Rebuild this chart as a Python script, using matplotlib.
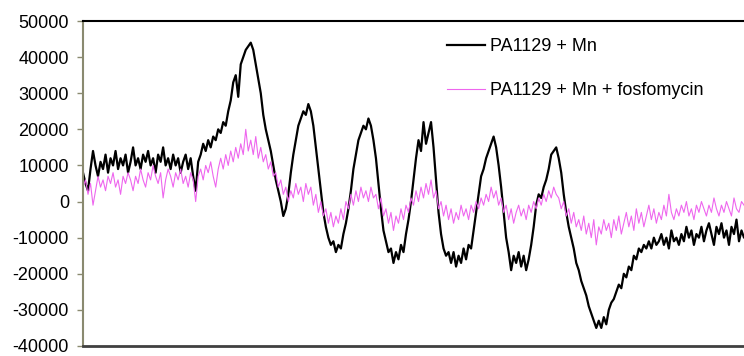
import numpy as np
import matplotlib
matplotlib.use('Agg')
import matplotlib.pyplot as plt

plt.rcParams['font.family'] = ['Liberation Sans', 'DejaVu Sans']

# signal values, in thousands
mn = [8, 5, 3, 9, 14, 10, 7, 11, 9, 13, 8, 12, 10, 14, 9, 12, 10, 13, 8, 11,
      15, 10, 12, 9, 13, 11, 14, 10, 12, 8, 13, 11, 15, 10, 12, 9, 13, 10, 12, 8,
      11, 13, 9, 12, 7, 3, 11, 13, 16, 14, 17, 15, 18, 17, 20, 19, 22, 21, 25, 28,
      33, 35, 29, 38, 40, 42, 43, 44, 42, 38, 34, 30, 24, 20, 17, 14, 10, 6, 3, 0,
      -4, -2, 2, 8, 13, 17, 21, 23, 25, 24, 27, 25, 21, 15, 9, 3, -3, -7, -10, -12,
      -11, -14, -12, -13, -9, -6, -2, 3, 9, 13, 17, 19, 21, 20, 23, 21, 17, 12, 5, -2,
      -8, -11, -14, -13, -17, -14, -16, -12, -14, -9, -5, 0, 6, 12, 17, 14, 22, 16, 19, 22,
      15, 6, -3, -9, -13, -15, -14, -17, -14, -18, -15, -17, -13, -16, -12, -13, -8, -3, 2, 7,
      9, 12, 14, 16, 18, 15, 10, 4, -3, -10, -14, -19, -15, -17, -14, -18, -15, -19, -16, -12,
      -7, -1, 2, 1, 4, 6, 9, 13, 14, 15, 12, 8, 2, -3, -7, -10, -13, -17, -19, -22,
      -24, -26, -29, -31, -33, -35, -33, -35, -32, -34, -30, -28, -27, -25, -23, -24, -20, -21, -18, -19,
      -15, -16, -13, -14, -12, -13, -11, -13, -10, -12, -11, -9, -12, -10, -13, -8, -11, -10, -12, -9,
      -11, -7, -10, -8, -12, -9, -10, -7, -11, -8, -6, -9, -12, -7, -9, -6, -10, -8, -12, -7,
      -9, -5, -11, -8, -10, -9]

mn_fos = [4, 6, 2, 5, -1, 3, 7, 4, 6, 3, 7, 5, 8, 4, 6, 2, 7, 5, 8, 6,
          3, 7, 5, 9, 6, 4, 8, 6, 10, 7, 5, 8, 1, 6, 9, 7, 4, 8, 6, 9,
          5, 7, 4, 8, 6, 0, 7, 9, 6, 10, 8, 11, 7, 4, 9, 12, 9, 13, 10, 14,
          11, 15, 12, 16, 13, 20, 14, 17, 13, 18, 12, 15, 11, 13, 9, 11, 7, 8, 4, 6,
          2, 4, 0, 3, 1, 5, 2, 4, 0, 5, 2, 4, -1, 2, -3, 0, -4, -2, -6, -3,
          -7, -4, -6, -2, -5, 0, -2, 2, -1, 3, 0, 4, 1, 3, 0, 4, 1, 2, -2, 1,
          -4, -2, -6, -3, -8, -4, -6, -2, -5, -1, -3, 1, -1, 3, 0, 4, 1, 5, 2, 6,
          1, 3, -2, 0, -4, -1, -5, -2, -6, -3, -5, -1, -4, -2, -5, -1, -3, 0, -2, 1,
          -1, 2, 0, 4, 1, 3, -1, 1, -3, -1, -5, -2, -6, -3, -1, -4, -2, -5, -1, -3,
          0, -2, 1, -1, 2, 0, 3, 1, 4, 2, 1, -2, 0, -4, -2, -6, -3, -7, -5, -8,
          -4, -9, -6, -10, -5, -12, -7, -9, -5, -8, -6, -10, -5, -8, -4, -9, -6, -3, -7, -4,
          -8, -2, -6, -3, -7, -4, -1, -5, -2, -6, -3, -5, -1, -4, 2, -3, -5, -2, -4, -1,
          -3, 0, -4, -2, -5, -1, -3, 0, -2, -4, -1, -3, 1, -2, -4, -1, -3, 0, -2, -4,
          1, -2, -3, 0, -1, -2]

labels = ['PA1129 + Mn', 'PA1129 + Mn + fosfomycin']
yticks = [-40000, -30000, -20000, -10000, 0, 10000, 20000, 30000, 40000, 50000]

fig = plt.figure(figsize=(7.44, 3.56), dpi=100)
ax = fig.add_axes([83/744, 1 - 346/356, 1 - 83/744, 325/356])

x = np.arange(len(mn))
ax.plot(x, np.array(mn) * 1000, color='black', lw=1.6, label=labels[0])
ax.plot(x, np.array(mn_fos) * 1000, color='#ee66ee', lw=0.8, label=labels[1])

ax.set_xlim(0, len(mn) - 2)
ax.set_ylim(-40000, 50000)
ax.set_yticks(yticks)
ax.set_yticklabels([str(t) for t in yticks])
ax.set_xticks([])
ax.tick_params(axis='y', direction='out', length=4, width=1, color='#8a8a70',
               labelsize=13, pad=6)

ax.spines['top'].set_color('black')
ax.spines['top'].set_linewidth(1.5)
ax.spines['bottom'].set_color('#404040')
ax.spines['bottom'].set_linewidth(2)
ax.spines['left'].set_color('#8a8a70')
ax.spines['left'].set_linewidth(1.5)
ax.spines['right'].set_visible(False)

ax.legend(loc='upper left', bbox_to_anchor=(447/744, 1 - 38/356),
          bbox_transform=fig.transFigure, frameon=False, fontsize=13,
          handlelength=2.1, handletextpad=0.3, labelspacing=1.5,
          borderpad=0, borderaxespad=0)

fig.savefig('out.png', dpi=100)
